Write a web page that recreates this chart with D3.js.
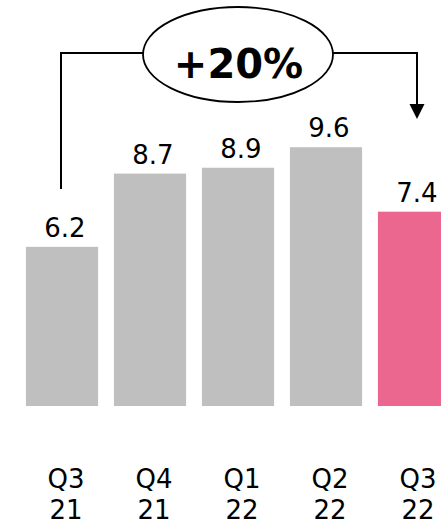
<!DOCTYPE html>
<html>
<head>
<meta charset="utf-8">
<script src="https://cdn.jsdelivr.net/npm/d3@7"></script>
<style>
  html, body { margin: 0; padding: 0; background: #fff; }
  svg { display: block; }
</style>
</head>
<body>
<svg id="chart" width="441" height="524"></svg>
<script>
// Quarterly values
const quarters = ["Q3", "Q4", "Q1", "Q2", "Q3"];
const years = ["21", "21", "22", "22", "22"];
const values = [6.2, 8.7, 8.9, 9.6, 7.4];
const highlight = [false, false, false, false, true];
const changeLabel = "+20%";

const W = 441, H = 524;
const baseline = 406;
const svg = d3.select("#chart");

const keys = values.map((_, i) => i);
const x = d3.scaleBand()
  .domain(keys)
  .range([18, 458])
  .paddingInner(0.18)
  .paddingOuter(0.09);

const y = d3.scaleLinear().domain([0, 10]).range([428.5, 135.5]);

const font = "'DejaVu Sans', Verdana, sans-serif";

// plot area ends at the baseline
svg.append("clipPath").attr("id", "plot")
  .append("rect").attr("x", 0).attr("y", 0).attr("width", W).attr("height", baseline);

svg.append("g").attr("clip-path", "url(#plot)")
  .selectAll("rect")
  .data(keys)
  .join("rect")
  .attr("x", i => x(i))
  .attr("y", i => y(values[i]))
  .attr("width", x.bandwidth())
  .attr("height", i => y(0) - y(values[i]))
  .attr("fill", i => highlight[i] ? "#ec6790" : "#bfbfbf");

// value labels
svg.append("g")
  .selectAll("text")
  .data(keys)
  .join("text")
  .attr("x", i => x(i) + x.bandwidth() / 2 + 3)
  .attr("y", i => y(values[i]) - 10)
  .attr("text-anchor", "middle")
  .attr("font-family", font)
  .attr("font-size", 26)
  .attr("fill", "#000")
  .text(i => values[i].toFixed(1));

// category labels (two lines)
const cat = svg.append("g")
  .selectAll("text")
  .data(keys)
  .join("text")
  .attr("text-anchor", "middle")
  .attr("font-family", font)
  .attr("font-size", 26)
  .attr("fill", "#000");
cat.append("tspan")
  .attr("x", i => x(i) + x.bandwidth() / 2 + 4)
  .attr("y", 488)
  .text(i => quarters[i]);
cat.append("tspan")
  .attr("x", i => x(i) + x.bandwidth() / 2 + 4)
  .attr("y", 519)
  .text(i => years[i]);

// change annotation: bracket from first to last bar with ellipse callout
const xa = x(0) + x.bandwidth() / 2 - 1;
const xb = x(keys.length - 1) + x.bandwidth() / 2 + 3;
const cx = 238, cy = 54.5, rx = 95, ry = 47.5, lineY = 53;

svg.append("path")
  .attr("d", `M${xa},189 V${lineY} H${cx - rx}`)
  .attr("fill", "none").attr("stroke", "#000").attr("stroke-width", 2);

svg.append("path")
  .attr("d", `M${cx + rx},${lineY} H${xb} V104`)
  .attr("fill", "none").attr("stroke", "#000").attr("stroke-width", 2);

svg.append("path")
  .attr("d", `M${xb - 7.5},104 L${xb + 7.5},104 L${xb},119 Z`)
  .attr("fill", "#000");

svg.append("ellipse")
  .attr("cx", cx).attr("cy", cy).attr("rx", rx).attr("ry", ry)
  .attr("fill", "#fff").attr("stroke", "#000").attr("stroke-width", 1.8);

svg.append("text")
  .attr("x", cx + 0.5).attr("y", 78)
  .attr("text-anchor", "middle")
  .attr("font-family", font)
  .attr("font-weight", "bold")
  .attr("font-size", 40)
  .attr("fill", "#000")
  .text(changeLabel);
</script>
</body>
</html>
